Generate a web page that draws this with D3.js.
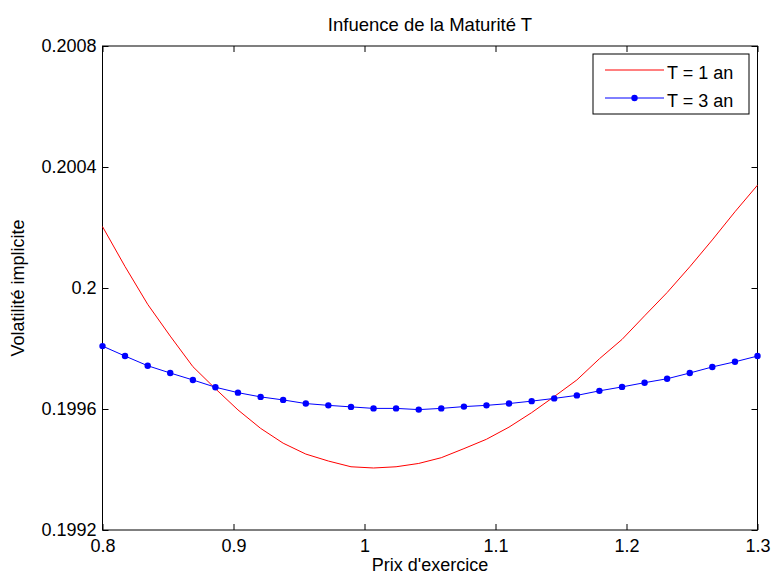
<!DOCTYPE html>
<html>
<head>
<meta charset="utf-8">
<script src="https://cdn.jsdelivr.net/npm/d3@7"></script>
<style>
  body { margin: 0; background: #fff; }
  text { font-family: "Liberation Sans", Arial, sans-serif; }
</style>
</head>
<body>
<div id="chart-area"></div>
<script>
// strike prices (prix d'exercice)
const strikes = [0.8000, 0.8172, 0.8345, 0.8517, 0.8690, 0.8862, 0.9034, 0.9207, 0.9379, 0.9552,
                 0.9724, 0.9897, 1.0069, 1.0241, 1.0414, 1.0586, 1.0759, 1.0931, 1.1103, 1.1276,
                 1.1448, 1.1621, 1.1793, 1.1966, 1.2138, 1.2310, 1.2483, 1.2655, 1.2828, 1.3000];

// implied vol, T = 1 an
const volT1 = [0.200203, 0.200071, 0.199946, 0.199841, 0.199740, 0.199667, 0.199597, 0.199536, 0.199487, 0.199451,
               0.199428, 0.199409, 0.199405, 0.199409, 0.199420, 0.199439, 0.199469, 0.199500, 0.199540, 0.199588,
               0.199641, 0.199696, 0.199766, 0.199830, 0.199908, 0.199985, 0.200070, 0.200159, 0.200252, 0.200340];

// implied vol, T = 3 an
const volT3 = [0.199808, 0.199775, 0.199743, 0.199719, 0.199696, 0.199672, 0.199654, 0.199640, 0.199630, 0.199618,
               0.199612, 0.199607, 0.199602, 0.199602, 0.199598, 0.199602, 0.199608, 0.199612, 0.199618, 0.199626,
               0.199635, 0.199645, 0.199660, 0.199673, 0.199687, 0.199700, 0.199719, 0.199739, 0.199756, 0.199775];

const xTicks = [0.8, 0.9, 1, 1.1, 1.2, 1.3];
const yTicks = [0.1992, 0.1996, 0.2, 0.2004, 0.2008];
const seriesNames = ["T = 1 an", "T = 3 an"];

const W = 772, H = 576;
const margin = { left: 102.5, right: 14.5, top: 46, bottom: 46 };
const width = W - margin.left - margin.right;
const height = H - margin.top - margin.bottom;

const svg = d3.select("#chart-area")
  .append("svg")
    .attr("width", W)
    .attr("height", H);

svg.append("rect").attr("width", W).attr("height", H).attr("fill", "#fff");

const g = svg.append("g")
  .attr("transform", "translate(" + margin.left + "," + margin.top + ")");

const x = d3.scaleLinear().domain([0.8, 1.3]).range([0, width]);
const y = d3.scaleLinear().domain([0.1992, 0.2008]).range([height, 0]);

const fmt = (d) => String(+d.toFixed(4));

// axes with inward ticks (MATLAB style)
g.append("g")
  .attr("transform", "translate(0," + height + ")")
  .call(d3.axisBottom(x).tickValues(xTicks).tickFormat(fmt).tickSizeInner(-6).tickSizeOuter(0).tickPadding(9));
g.append("g")
  .call(d3.axisTop(x).tickValues(xTicks).tickFormat("").tickSizeInner(-6).tickSizeOuter(0));
g.append("g")
  .call(d3.axisLeft(y).tickValues(yTicks).tickFormat(fmt).tickSizeInner(-6).tickSizeOuter(0).tickPadding(6));
g.append("g")
  .attr("transform", "translate(" + width + ",0)")
  .call(d3.axisRight(y).tickValues(yTicks).tickFormat("").tickSizeInner(-6).tickSizeOuter(0));

g.selectAll(".domain").remove();
g.selectAll(".tick line").attr("stroke", "#000");
g.selectAll(".tick text").attr("font-size", "18px").attr("fill", "#000")
  .attr("font-family", "Liberation Sans, Arial, sans-serif");

// box
g.append("rect")
  .attr("width", width)
  .attr("height", height)
  .attr("fill", "none")
  .attr("stroke", "#000")
  .attr("stroke-width", 1);

const line = d3.line()
  .x((d, i) => x(strikes[i]))
  .y((d) => y(d));

g.append("path")
  .datum(volT1)
  .attr("d", line)
  .attr("fill", "none")
  .attr("stroke", "#ff0000")
  .attr("stroke-width", 1);

g.append("path")
  .datum(volT3)
  .attr("d", line)
  .attr("fill", "none")
  .attr("stroke", "#0000ff")
  .attr("stroke-width", 1);

g.selectAll(".dot").data(volT3)
  .enter()
  .append("circle")
  .attr("class", "dot")
  .attr("cx", (d, i) => x(strikes[i]))
  .attr("cy", (d) => y(d))
  .attr("r", 3.2)
  .attr("fill", "#0000ff");

// title and labels
svg.append("text")
  .attr("x", margin.left + width / 2)
  .attr("y", 31)
  .attr("font-size", "18.5px")
  .attr("text-anchor", "middle")
  .text("Infuence de la Maturité T");

svg.append("text")
  .attr("x", margin.left + width / 2)
  .attr("y", 571)
  .attr("font-size", "18px")
  .attr("text-anchor", "middle")
  .text("Prix d'exercice");

svg.append("text")
  .attr("x", -(margin.top + height / 2))
  .attr("y", 24)
  .attr("font-size", "18px")
  .attr("text-anchor", "middle")
  .attr("transform", "rotate(-90)")
  .text("Volatilité implicite");

// legend
const lg = svg.append("g").attr("transform", "translate(593,54)");
lg.append("rect")
  .attr("width", 156)
  .attr("height", 60)
  .attr("fill", "#fff")
  .attr("stroke", "#000");

const colors = ["#ff0000", "#0000ff"];
seriesNames.forEach((name, i) => {
  const yy = 16 + i * 28;
  lg.append("line")
    .attr("x1", 12).attr("x2", 71)
    .attr("y1", yy).attr("y2", yy)
    .attr("stroke", colors[i]);
  if (i === 1) {
    lg.append("circle").attr("cx", 41.5).attr("cy", yy).attr("r", 3.2).attr("fill", colors[i]);
  }
  lg.append("text")
    .attr("x", 74)
    .attr("y", yy + 9)
    .attr("font-size", "18px")
    .text(name);
});
</script>
</body>
</html>
